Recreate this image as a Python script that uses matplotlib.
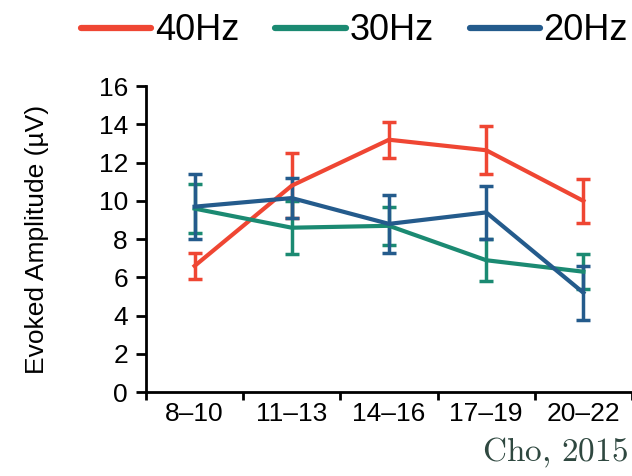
import matplotlib
matplotlib.use("Agg")
import matplotlib.pyplot as plt
from matplotlib.lines import Line2D
import numpy as np

# Age groups (years) and evoked amplitudes (µV) with error bars
age_groups = ["8–10", "11–13", "14–16", "17–19", "20–22"]
amp_40hz = [6.6, 10.8, 13.2, 12.65, 10.0]
err_40hz = [0.7, 1.7, 0.95, 1.25, 1.15]
amp_30hz = [9.6, 8.6, 8.7, 6.9, 6.3]
err_30hz = [1.3, 1.4, 1.0, 1.1, 0.9]
amp_20hz = [9.7, 10.15, 8.8, 9.4, 5.2]
err_20hz = [1.7, 1.05, 1.5, 1.37, 1.4]
series_labels = ["40Hz", "30Hz", "20Hz"]
y_ticks = [0, 2, 4, 6, 8, 10, 12, 14, 16]

colors = ["#EF4633", "#1B8A72", "#245B8C"]

plt.rcParams["font.family"] = ["Liberation Sans", "DejaVu Sans"]

fig = plt.figure(figsize=(6.32, 4.76), dpi=100)
ax = fig.add_axes([0.231, 0.176, 0.769, 0.643])

x = np.arange(len(age_groups)) + 0.5
for vals, errs, col in zip([amp_40hz, amp_30hz, amp_20hz],
                           [err_40hz, err_30hz, err_20hz], colors):
    ax.errorbar(x, vals, yerr=errs, color=col, lw=3.0,
                elinewidth=2.5, capsize=4.7, capthick=2.5)

ax.set_xlim(0, 5)
ax.set_ylim(0, 16)
ax.set_yticks(y_ticks)
ax.set_xticks(np.arange(0, 6))
ax.set_xticklabels([])
ax.set_xticks(x, minor=True)
ax.set_xticklabels(age_groups, minor=True, fontsize=19)
ax.tick_params(axis="x", which="minor", length=0, pad=7)
ax.tick_params(axis="x", which="major", length=6, width=2.0, direction="out")
ax.tick_params(axis="y", length=7, width=2.0, direction="out", labelsize=19, pad=6)

for side in ("top", "right"):
    ax.spines[side].set_visible(False)
for side in ("left", "bottom"):
    ax.spines[side].set_linewidth(2.0)

ax.set_ylabel("Evoked Amplitude (µV)", fontsize=19)
ax.yaxis.set_label_coords(-0.2, 0.5)

handles = [Line2D([], [], color=c, lw=4.5, solid_capstyle="round") for c in colors]
fig.legend(handles, series_labels, loc="center left", bbox_to_anchor=(0.128, 0.935),
           ncol=3, frameon=False, fontsize=26, handlelength=1.95,
           handletextpad=0.1, columnspacing=1.0, borderpad=0, borderaxespad=0)

fig.text(0.994, 0.012, r"$\mathrm{Cho,\,2015}$", ha="right", va="bottom", fontsize=24,
         math_fontfamily="cm", color="#2F4840")

fig.savefig("out.png", dpi=100)
